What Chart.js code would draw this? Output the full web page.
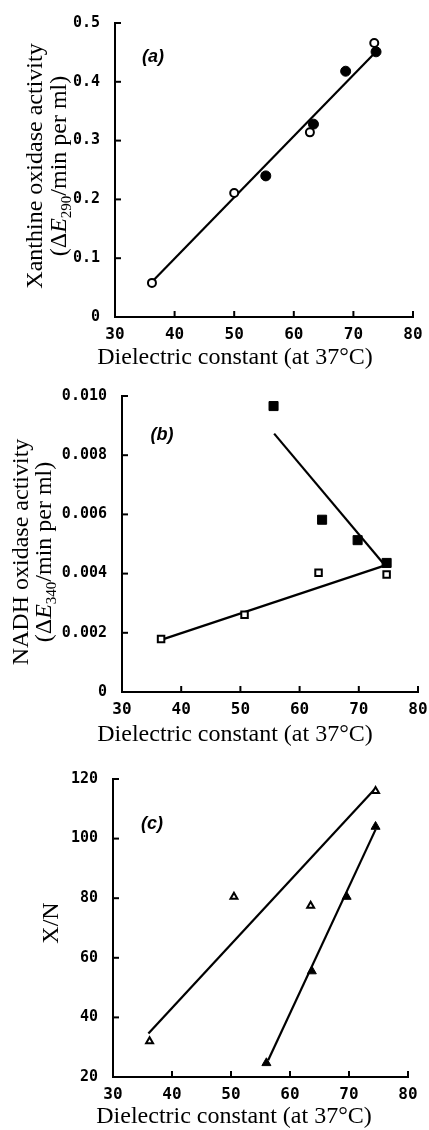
<!DOCTYPE html>
<html>
<head>
<meta charset="utf-8">
<script src="https://cdn.jsdelivr.net/npm/chart.js@4"></script>
<style>
  html, body { margin: 0; padding: 0; background: #fff; }
  body { width: 429px; height: 1130px; position: relative; overflow: hidden; }
  canvas { position: absolute; left: 0; }
</style>
</head>
<body>
<canvas id="chartA" width="429" height="380" style="top:0"></canvas>
<canvas id="chartB" width="429" height="370" style="top:380px"></canvas>
<canvas id="chartC" width="429" height="380" style="top:750px"></canvas>
<script>
// shared x axis
const xTicks = [30, 40, 50, 60, 70, 80];
const xTickLabels = ['30', '40', '50', '60', '70', '80'];

// (a) xanthine oxidase activity
const xoOpenX = [36.2, 50.0, 62.7, 73.5];
const xoOpenY = [0.058, 0.211, 0.314, 0.466];
const xoFilledX = [55.3, 63.3, 68.7, 73.8];
const xoFilledY = [0.240, 0.328, 0.418, 0.451];
const xoFitX = [36.5, 73.3];
const xoFitY = [0.063, 0.446];
const yTicksA = [0, 0.1, 0.2, 0.3, 0.4, 0.5];
const yTickLabelsA = ['0', '0.1', '0.2', '0.3', '0.4', '0.5'];

// (b) NADH oxidase activity
const nadhFilledX = [55.6, 63.8, 69.8, 74.7];
const nadhFilledY = [0.00966, 0.00582, 0.00513, 0.00436];
const nadhOpenX = [36.6, 50.7, 63.2, 74.7];
const nadhOpenY = [0.00179, 0.00261, 0.00403, 0.00397];
const nadhFilledFitX = [55.7, 74.4];
const nadhFilledFitY = [0.00873, 0.00428];
const nadhOpenFitX = [36.6, 74.2];
const nadhOpenFitY = [0.00176, 0.00426];
const yTicksB = [0, 0.002, 0.004, 0.006, 0.008, 0.010];
const yTickLabelsB = ['0', '0.002', '0.004', '0.006', '0.008', '0.010'];

// (c) X/N ratio
const ratioOpenX = [36.2, 50.5, 63.5, 74.5];
const ratioOpenY = [32, 80.5, 77.5, 116];
const ratioFilledX = [56.0, 63.7, 69.6, 74.5];
const ratioFilledY = [24.7, 55.5, 80.5, 104];
const ratioOpenFitX = [36.0, 74.3];
const ratioOpenFitY = [34.6, 116.5];
const ratioFilledFitX = [56.3, 74.5];
const ratioFilledFitY = [25.6, 103];
const yTicksC = [20, 40, 60, 80, 100, 120];
const yTickLabelsC = ['20', '40', '60', '80', '100', '120'];

const pts = (xs, ys) => xs.map((x, i) => ({ x, y: ys[i] }));

const SERIF = '"Liberation Serif", "Times New Roman", serif';
const TICKFONT = '"DejaVu Sans Mono", monospace';

// rich text (italic E + subscript), drawn rotated for the y titles
function drawRich(ctx, segs, x, y, size, rotate) {
  const fontOf = s => (s.italic ? 'italic ' : '') + (s.sub ? Math.round(size * 0.62) : size) + 'px ' + SERIF;
  let total = 0;
  segs.forEach(s => { ctx.font = fontOf(s); s.w = ctx.measureText(s.t).width; total += s.w; });
  ctx.save();
  ctx.translate(x, y);
  if (rotate) ctx.rotate(-Math.PI / 2);
  ctx.textAlign = 'left';
  ctx.textBaseline = 'middle';
  let cx = -total / 2;
  segs.forEach(s => {
    ctx.font = fontOf(s);
    ctx.fillText(s.t, cx, s.sub ? size * 0.28 : 0);
    cx += s.w;
  });
  ctx.restore();
}

const panelText = {
  id: 'panelText',
  afterDraw(chart, args, o) {
    const ctx = chart.ctx;
    ctx.save();
    ctx.fillStyle = '#000';
    drawRich(ctx, [{ t: o.xTitle }], o.xTitlePos[0], o.xTitlePos[1], 24, false);
    o.yTitle.forEach((line, i) => drawRich(ctx, line, o.yTitleX[i], o.yTitleY, 24, true));
    ctx.font = 'bold italic 18px "Liberation Sans", sans-serif';
    ctx.textAlign = 'center';
    ctx.textBaseline = 'middle';
    ctx.fillText(o.label, o.labelPos[0], o.labelPos[1]);
    ctx.restore();
  }
};

// short tick marks pointing into the plot
const innerTicks = {
  id: 'innerTicks',
  afterDatasetsDraw(chart) {
    const { ctx, chartArea, scales: { x, y } } = chart;
    ctx.save();
    ctx.strokeStyle = '#000';
    ctx.lineWidth = 2;
    x.ticks.forEach(t => {
      const px = x.getPixelForValue(t.value);
      ctx.beginPath(); ctx.moveTo(px, chartArea.bottom); ctx.lineTo(px, chartArea.bottom - 6); ctx.stroke();
    });
    y.ticks.forEach(t => {
      const py = y.getPixelForValue(t.value);
      ctx.beginPath(); ctx.moveTo(chartArea.left, py); ctx.lineTo(chartArea.left + 6, py); ctx.stroke();
    });
    ctx.restore();
  }
};

function scatterSet(data, style, radius, filled) {
  return {
    data, pointStyle: style, pointRadius: radius, pointHoverRadius: radius,
    pointBackgroundColor: filled ? '#000' : '#fff', pointBorderColor: '#000',
    pointBorderWidth: filled ? 1 : 2, showLine: false, clip: false, order: 0
  };
}
function fitSet(data) {
  return { data, showLine: true, pointRadius: 0, borderColor: '#000', borderWidth: 2.2, fill: false, order: 1 };
}

function makeChart(id, datasets, y, left, pad, text) {
  return new Chart(document.getElementById(id), {
    type: 'scatter',
    data: { datasets },
    options: {
      responsive: false,
      animation: false,
      events: [],
      layout: { autoPadding: false, padding: pad },
      plugins: { legend: { display: false }, tooltip: { enabled: false }, panelText: text },
      scales: {
        x: {
          type: 'linear', min: 30, max: 80,
          afterBuildTicks: s => { s.ticks = xTicks.map(v => ({ value: v })); },
          afterFit: s => { s.height = 30; },
          ticks: { callback: (v, i) => xTickLabels[i], color: '#000', padding: 0, maxRotation: 0, autoSkip: false,
                   font: { family: TICKFONT, size: 16, weight: 'bold' } },
          grid: { display: false },
          border: { display: true, color: '#000', width: 2 }
        },
        y: {
          type: 'linear', min: y.ticks[0], max: y.ticks[y.ticks.length - 1],
          afterBuildTicks: s => { s.ticks = y.ticks.map(v => ({ value: v })); },
          afterFit: s => { s.width = left - pad.left; },
          ticks: { callback: (v, i) => y.labels[i], color: '#000', padding: 7, autoSkip: false,
                   font: { family: TICKFONT, size: 15, weight: 'bold' } },
          grid: { display: false },
          border: { display: true, color: '#000', width: 2 }
        }
      }
    },
    plugins: [innerTicks, panelText]
  });
}

makeChart('chartA', [
  fitSet(pts(xoFitX, xoFitY)),
  scatterSet(pts(xoOpenX, xoOpenY), 'circle', 4, false),
  scatterSet(pts(xoFilledX, xoFilledY), 'circle', 5, true)
], { ticks: yTicksA, labels: yTickLabelsA }, 115,
{ left: 4, right: 16, top: 23, bottom: 33 },
{
  xTitle: 'Dielectric constant (at 37°C)', xTitlePos: [235, 358],
  yTitle: [[{ t: 'Xanthine oxidase activity' }],
           [{ t: '(Δ' }, { t: 'E', italic: true }, { t: '290', sub: true }, { t: '/min per ml)' }]],
  yTitleX: [36, 60], yTitleY: 166,
  label: '(a)', labelPos: [153, 57]
});

makeChart('chartB', [
  fitSet(pts(nadhFilledFitX, nadhFilledFitY)),
  fitSet(pts(nadhOpenFitX, nadhOpenFitY)),
  scatterSet(pts(nadhFilledX, nadhFilledY), 'rect', 6.4, true),
  scatterSet(pts(nadhOpenX, nadhOpenY), 'rect', 4.6, false)
], { ticks: yTicksB, labels: yTickLabelsB }, 122,
{ left: 4, right: 11, top: 16, bottom: 28 },
{
  xTitle: 'Dielectric constant (at 37°C)', xTitlePos: [235, 355],
  yTitle: [[{ t: 'NADH oxidase activity' }],
           [{ t: '(Δ' }, { t: 'E', italic: true }, { t: '340', sub: true }, { t: '/min per ml)' }]],
  yTitleX: [22, 45], yTitleY: 172,
  label: '(b)', labelPos: [162, 55]
});

makeChart('chartC', [
  fitSet(pts(ratioOpenFitX, ratioOpenFitY)),
  fitSet(pts(ratioFilledFitX, ratioFilledFitY)),
  scatterSet(pts(ratioOpenX, ratioOpenY), 'triangle', 4, false),
  scatterSet(pts(ratioFilledX, ratioFilledY), 'triangle', 5.2, true)
], { ticks: yTicksC, labels: yTickLabelsC }, 113,
{ left: 4, right: 21, top: 29, bottom: 23 },
{
  xTitle: 'Dielectric constant (at 37°C)', xTitlePos: [234, 367],
  yTitle: [[{ t: 'X/N' }]],
  yTitleX: [52], yTitleY: 173,
  label: '(c)', labelPos: [152, 74]
});
</script>
</body>
</html>
